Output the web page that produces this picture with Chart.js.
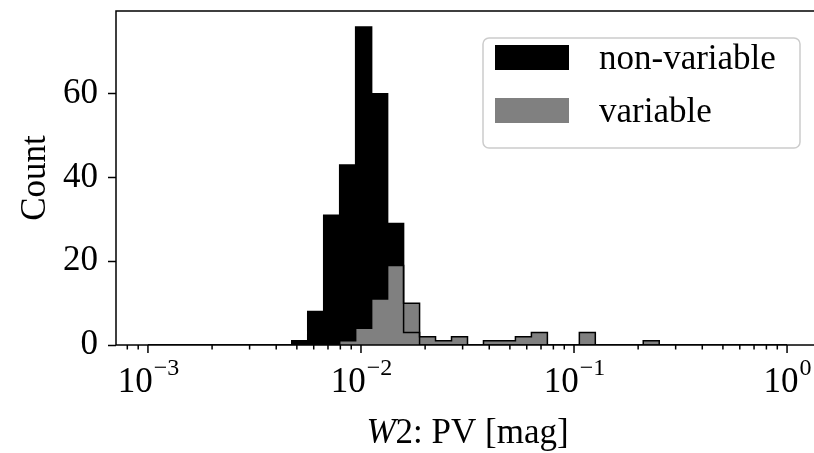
<!DOCTYPE html>
<html>
<head>
<meta charset="utf-8">
<script src="https://cdn.jsdelivr.net/npm/chart.js@4.4.0/dist/chart.umd.min.js"></script>
<style>
  html, body { margin: 0; padding: 0; background: #fff; overflow: hidden; }
  #wrap { width: 814px; height: 453px; overflow: hidden; }
</style>
</head>
<body>
<div id="wrap"><canvas id="grafico" width="830" height="453"></canvas></div>
<script>
// bordas dos bins (log, 40 bins de 1e-3 a 1)
const binEdges = [
  0.001, 0.0011885, 0.0014125, 0.0016788, 0.0019953, 0.0023714, 0.0028184, 0.0033497,
  0.0039811, 0.0047315, 0.0056234, 0.0066834, 0.0079433, 0.0094406, 0.011220, 0.013335,
  0.015849, 0.018836, 0.022387, 0.026607, 0.031623, 0.037584, 0.044668, 0.053088,
  0.063096, 0.074989, 0.089125, 0.10593, 0.12589, 0.14962, 0.17783, 0.21135,
  0.25119, 0.29854, 0.35481, 0.42170, 0.50119, 0.59566, 0.70795, 0.84140, 1.0
];
const nonVariableCounts = [
  0, 0, 0, 0, 0, 0, 0, 0, 0, 1, 8, 31, 43, 76, 60, 29, 3, 0, 0, 0,
  0, 0, 0, 0, 0, 0, 0, 0, 0, 0, 0, 0, 0, 0, 0, 0, 0, 0, 0, 0
];
const variableCounts = [
  0, 0, 0, 0, 0, 0, 0, 0, 0, 0, 0, 0, 1, 4, 11, 19, 10, 2, 1, 2,
  0, 1, 1, 2, 3, 0, 0, 3, 0, 0, 0, 1, 0, 0, 0, 0, 0, 0, 0, 0
];
const seriesLabels = ["non-variable", "variable"];
const seriesColors = ["#000000", "#808080"];
const xMajorTicks = [0.001, 0.01, 0.1, 1];
const xMajorExponents = ["\u22123", "\u22122", "\u22121", "0"];
const yTicks = [0, 20, 40, 60];

const X_MIN = Math.pow(10, -3.15);
const X_MAX = Math.pow(10, 0.15);
const FONTE = '"Liberation Serif", "Times New Roman", serif';

function pontosHistograma(counts) {
  const pts = [{ x: binEdges[0], y: 0 }];
  counts.forEach((c, i) => pts.push({ x: binEdges[i], y: c }));
  pts.push({ x: binEdges[binEdges.length - 1], y: 0 });
  return pts;
}

function ticksMenores() {
  const lista = [];
  for (let e = -4; e <= 0; e++) {
    for (let m = 2; m <= 9; m++) {
      const v = m * Math.pow(10, e);
      if (v > X_MIN && v < X_MAX) lista.push(v);
    }
  }
  return lista;
}

const eixosPlugin = {
  id: "eixos",
  afterDatasetsDraw(chart) {
    const { ctx, chartArea: area, scales } = chart;
    const x = scales.x;
    ctx.save();
    ctx.strokeStyle = "#000";
    ctx.lineWidth = 1.5;
    ctx.strokeRect(area.left, area.top, area.right - area.left, area.bottom - area.top);

    ctx.beginPath();
    xMajorTicks.forEach((v) => {
      const px = x.getPixelForValue(v);
      ctx.moveTo(px, area.bottom);
      ctx.lineTo(px, area.bottom + 8);
    });
    ticksMenores().forEach((v) => {
      const px = x.getPixelForValue(v);
      ctx.moveTo(px, area.bottom);
      ctx.lineTo(px, area.bottom + 4.5);
    });
    ctx.stroke();

    ctx.fillStyle = "#000";
    ctx.textBaseline = "alphabetic";
    ctx.textAlign = "left";
    xMajorTicks.forEach((v, i) => {
      const px = x.getPixelForValue(v);
      ctx.font = "35px " + FONTE;
      const w1 = ctx.measureText("10").width;
      ctx.font = "24px " + FONTE;
      const w2 = ctx.measureText(xMajorExponents[i]).width;
      const inicio = px - (w1 + w2) / 2;
      ctx.font = "35px " + FONTE;
      ctx.fillText("10", inicio, 392);
      ctx.font = "24px " + FONTE;
      ctx.fillText(xMajorExponents[i], inicio + w1 + 1, 375);
    });

    // titulo do eixo x: W2: PV [mag]
    ctx.font = "italic 35px " + FONTE;
    const wW = ctx.measureText("W").width;
    ctx.font = "35px " + FONTE;
    const resto = "2: PV [mag]";
    const wR = ctx.measureText(resto).width;
    const cx = (area.left + area.right) / 2;
    const ini = cx - (wW + wR) / 2;
    ctx.font = "italic 35px " + FONTE;
    ctx.fillText("W", ini, 443);
    ctx.font = "35px " + FONTE;
    ctx.fillText(resto, ini + wW, 443);
    ctx.restore();
  },
  afterDraw(chart) {
    const { ctx } = chart;
    ctx.save();
    // caixa da legenda
    const bx = 483, by = 38, bw = 317, bh = 110, r = 6;
    ctx.beginPath();
    ctx.roundRect(bx, by, bw, bh, r);
    ctx.fillStyle = "rgba(255,255,255,0.8)";
    ctx.fill();
    ctx.strokeStyle = "#cccccc";
    ctx.lineWidth = 1.5;
    ctx.stroke();

    ctx.font = "35px " + FONTE;
    ctx.textBaseline = "alphabetic";
    ctx.textAlign = "left";
    chart.data.datasets.forEach((ds, i) => {
      const y0 = 45 + i * 53;
      ctx.fillStyle = ds.backgroundColor;
      ctx.fillRect(495, y0, 74, 25);
      ctx.fillStyle = "#000";
      ctx.fillText(ds.label, 599, y0 + 24);
    });
    ctx.restore();
  }
};

const ctx = document.getElementById("grafico").getContext("2d");

new Chart(ctx, {
  type: "line",
  data: {
    datasets: [
      {
        label: seriesLabels[0],
        data: pontosHistograma(nonVariableCounts),
        stepped: "before",
        fill: "origin",
        backgroundColor: seriesColors[0],
        borderColor: "#000",
        borderWidth: 1.5,
        pointRadius: 0,
        order: 1,
      },
      {
        label: seriesLabels[1],
        data: pontosHistograma(variableCounts),
        stepped: "before",
        fill: "origin",
        backgroundColor: seriesColors[1],
        borderColor: "#000",
        borderWidth: 1.5,
        pointRadius: 0,
        order: 0,
      },
    ],
  },
  options: {
    responsive: false,
    animation: false,
    devicePixelRatio: 1,
    layout: { padding: { top: 11, right: 11, left: 0, bottom: 0 } },
    plugins: {
      legend: { display: false },
      tooltip: { enabled: false },
      filler: { drawTime: "beforeDatasetsDraw" },
    },
    scales: {
      x: {
        type: "logarithmic",
        min: X_MIN,
        max: X_MAX,
        grid: { display: false },
        border: { display: false },
        ticks: { display: false },
        afterFit: (scale) => {
          scale.height = 108;
          scale.paddingLeft = 0;
          scale.paddingRight = 0;
        },
      },
      y: {
        min: 0,
        max: 79.8,
        grid: {
          drawOnChartArea: false,
          drawTicks: true,
          tickLength: 8,
          tickColor: "#000",
          tickWidth: 1.5,
        },
        border: { display: false },
        afterBuildTicks: (scale) => {
          scale.ticks = yTicks.map((v) => ({ value: v }));
        },
        ticks: {
          color: "#000",
          padding: 10,
          font: { family: FONTE, size: 35 },
        },
        title: {
          display: true,
          text: "Count",
          color: "#000",
          padding: { top: 15, bottom: 0 },
          font: { family: FONTE, size: 35 },
        },
        afterFit: (scale) => {
          scale.width = 116;
          scale.paddingTop = 0;
          scale.paddingBottom = 0;
        },
      },
    },
  },
  plugins: [eixosPlugin],
});
</script>
</body>
</html>
